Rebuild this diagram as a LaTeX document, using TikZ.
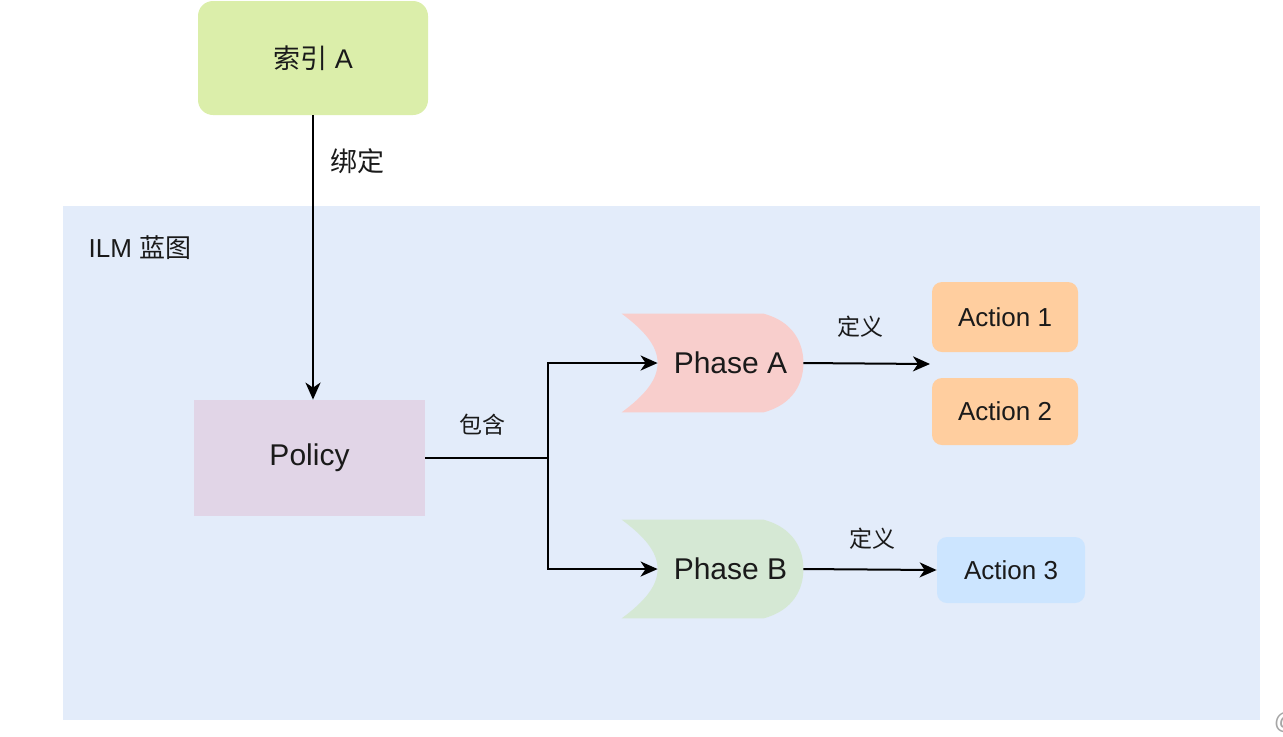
\documentclass[tikz,border=0pt]{standalone}
\usepackage{fontspec}
\setmainfont{Liberation Sans}
\newfontfamily\cjk{Noto Sans CJK SC}
\usetikzlibrary{arrows.meta,calc,backgrounds}

\definecolor{idxgreen}{RGB}{219,238,170}
\definecolor{bpblue}{RGB}{227,236,250}
\definecolor{polpurple}{RGB}{225,213,231}
\definecolor{phred}{RGB}{248,206,204}
\definecolor{phgreen}{RGB}{213,232,212}
\definecolor{actorange}{RGB}{255,206,159}
\definecolor{actblue}{RGB}{204,229,255}
\definecolor{txt}{RGB}{26,26,26}

% phase outline round a node: notch on the left, bulge on the right
\newcommand{\phaseshape}[2]{%
  \fill[#2] ($(#1.north west)+(-36,0)$) -- ($(#1.north east)+(-40,0)$)
    .. controls ($(#1.north east)+(-10,8)$) and ($(#1.east)+(0,-20)$) .. (#1.east)
    .. controls ($(#1.east)+(0,20)$) and ($(#1.south east)+(-10,-8)$) .. ($(#1.south east)+(-40,0)$)
    -- ($(#1.south west)+(-36,0)$)
    .. controls ($(#1.south west)+(-13,-17)$) and ($(#1.west)+(0,17)$) .. (#1.west)
    .. controls ($(#1.west)+(0,-17)$) and ($(#1.north west)+(-13,17)$) .. cycle;}

\begin{document}
\begin{tikzpicture}[x=0.5pt,y=-0.5pt,
    every node/.style={text=txt,inner sep=0pt},
    idxbox/.style={fill=idxgreen,rounded corners=7.5pt,minimum width=115pt,minimum height=57pt,font=\fontsize{13.5}{16}\selectfont},
    polbox/.style={fill=polpurple,minimum width=115.5pt,minimum height=58pt,font=\fontsize{15}{18}\selectfont},
    phasebox/.style={minimum width=72.5pt,minimum height=49pt,font=\fontsize{15}{18}\selectfont},
    actbox/.style={rounded corners=5pt,minimum width=73pt,minimum height=#1,font=\fontsize{13}{16}\selectfont},
    lbl/.style={font=\fontsize{#1}{#1}\selectfont\cjk},
    arr/.style={-{Stealth[length=8.5pt,width=7.5pt,inset=2.5pt]},line width=1pt,black}]
  \useasboundingbox (0,0) rectangle (1283,736);

  % nodes
  \node[idxbox] (idx) at (313,58) {{\cjk 索引} A};
  \node[polbox] (pol) at (309.5,458) {Policy};
  \node[phasebox] (pa) at (730.5,363) {Phase A};
  \node[phasebox] (pb) at (730.5,569) {Phase B};
  \node[actbox=35pt,fill=actorange] (a1) at (1005,317) {Action 1};
  \node[actbox=33.5pt,fill=actorange] (a2) at (1005,411.5) {Action 2};
  \node[actbox=33pt,fill=actblue,minimum width=74pt] (a3) at (1011,570) {Action 3};

  \node[lbl=13] (bp) at (140,248) {\fontspec{Liberation Sans}ILM {\cjk 蓝图}};
  \node[lbl=13.5] (bind) at (357,161) {绑定};
  \node[lbl=11.5] (incl) at (482,425) {包含};
  \node[lbl=11.5] (defa) at (860,327) {定义};
  \node[lbl=11.5] (defb) at (872,539) {定义};
  \node[text=black!35,font=\fontsize{12}{12}\selectfont] (mark) at (1286,722) {@};

  \begin{pgfonlayer}{background}
    \fill[bpblue] (63,206) rectangle (1260,720);
    \phaseshape{pa}{phred}
    \phaseshape{pb}{phgreen}
  \end{pgfonlayer}

  % connectors
  \coordinate (split) at (548,458);
  \coordinate (defend) at (930,364);
  \draw[arr] (idx.south) -- (idx.south |- pol.north);
  \draw[line width=1pt] (pol.east) -- (split);
  \draw[arr] (split) |- (pa.west);
  \draw[arr] (split) |- (pb.west);
  \draw[arr] (pa.east) -- (defend);
  \draw[arr] (pb.east) -- (a3.west);
\end{tikzpicture}
\end{document}
